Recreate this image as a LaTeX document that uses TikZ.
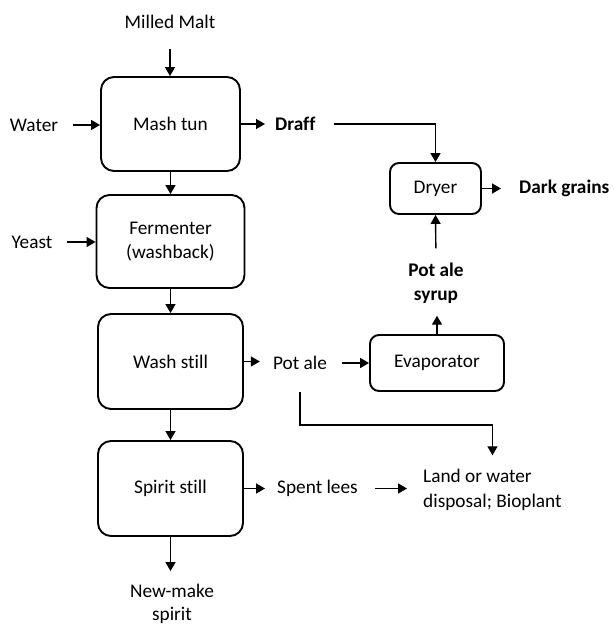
\documentclass[tikz,border=0pt]{standalone}
\usepackage{fontspec}
\setmainfont{Carlito}[Ligatures=NoCommon]
\usetikzlibrary{arrows.meta}
\begin{document}
\begin{tikzpicture}[x=1pt,y=-1pt,
  box/.style={draw,line width=1.9pt,rounded corners=13pt,align=center,inner sep=0pt},
  sbox/.style={draw,line width=1.9pt,rounded corners=9pt,align=center,inner sep=0pt},
  lbl/.style={align=center,inner sep=0pt},
  arr/.style={-{Triangle[length=9pt,width=10pt]},line width=1.4pt},
  font=\fontsize{19.3}{24.5}\selectfont]
\useasboundingbox (0,0) rectangle (613,628);

% process boxes
\node[box,minimum width=139pt,minimum height=94pt] (mash) at (170.5,124) {Mash tun};
\node[box,minimum width=148pt,minimum height=93pt] (ferm) at (170.5,241.5) {Fermenter\\(washback)};
\node[box,minimum width=145pt,minimum height=95pt] (wash) at (170.5,361.5) {Wash still};
\node[box,minimum width=145pt,minimum height=95pt] (spirit) at (170.5,488.5) {Spirit still};
\node[sbox,minimum width=91pt,minimum height=51pt] (dryer) at (435.5,188.5) {Dryer};
\node[sbox,minimum width=134pt,minimum height=56pt] (evap) at (437,363) {Evaporator};

% labels
\node[lbl] (malt) at (170,22) {Milled Malt};
\node[lbl] (water) at (34,125) {Water};
\node[lbl] (yeast) at (32,242) {Yeast};
\node[lbl,anchor=west,font=\fontsize{19.3}{24.5}\selectfont\bfseries] (draff) at (275,124) {Draff};
\node[lbl,anchor=west,font=\fontsize{19.3}{24.5}\selectfont\bfseries] (dark) at (519,188.5) {Dark grains};
\node[lbl,font=\fontsize{19.3}{24.5}\selectfont\bfseries] (syrup) at (436,283) {Pot ale\\syrup};
\node[lbl] (potale) at (300,363) {Pot ale};
\node[lbl,anchor=west] (lees) at (277,488.5) {Spent lees};
\node[lbl,align=left,anchor=west] (land) at (423,490) {Land or water\\disposal; Bioplant};
\node[lbl,font=\fontsize{19.3}{23}\selectfont] (newmake) at (172,604) {New-make\\spirit};

% connectors
\draw[arr,shorten <=20pt] (malt.south) -- (malt.south |- mash.north);
\draw[arr,shorten <=15pt] (water.east) -- (water.east -| mash.west);
\draw[arr] (mash.south) -- (ferm.north);
\draw[arr,shorten <=14pt] (yeast.east) -- (yeast.east -| ferm.west);
\draw[arr] (ferm.south) -- (wash.north);
\draw[arr] (wash.south) -- (spirit.north);
\draw[arr,shorten >=13pt] (spirit.south) -- (spirit.south |- newmake.north);

\draw[arr,shorten >=10pt] (mash.east) -- (mash.east -| draff.west);
\draw[arr,shorten <=18pt] (draff.east) -| (dryer.north);
\draw[arr,shorten >=18pt] (dryer.east) -- (dark.west);
\draw[arr,shorten <=14pt] (syrup.north) -- (dryer.south);
\draw[arr,shorten >=12pt] (evap.north) -- (evap.north |- syrup.south);

\draw[arr,shorten >=13pt] (wash.east) -- (wash.east -| potale.west);
\draw[arr,shorten <=15pt] (potale.east) -- (evap.west);
\coordinate (bend) at (300,425);
\draw[arr,shorten <=22pt,shorten >=14pt] (potale.south) -- (bend) -| (land.north);

\draw[arr,shorten >=12pt] (spirit.east) -- (spirit.east -| lees.west);
\draw[arr,shorten <=17pt,shorten >=16pt] (lees.east) -- (lees.east -| land.west);
\end{tikzpicture}
\end{document}
